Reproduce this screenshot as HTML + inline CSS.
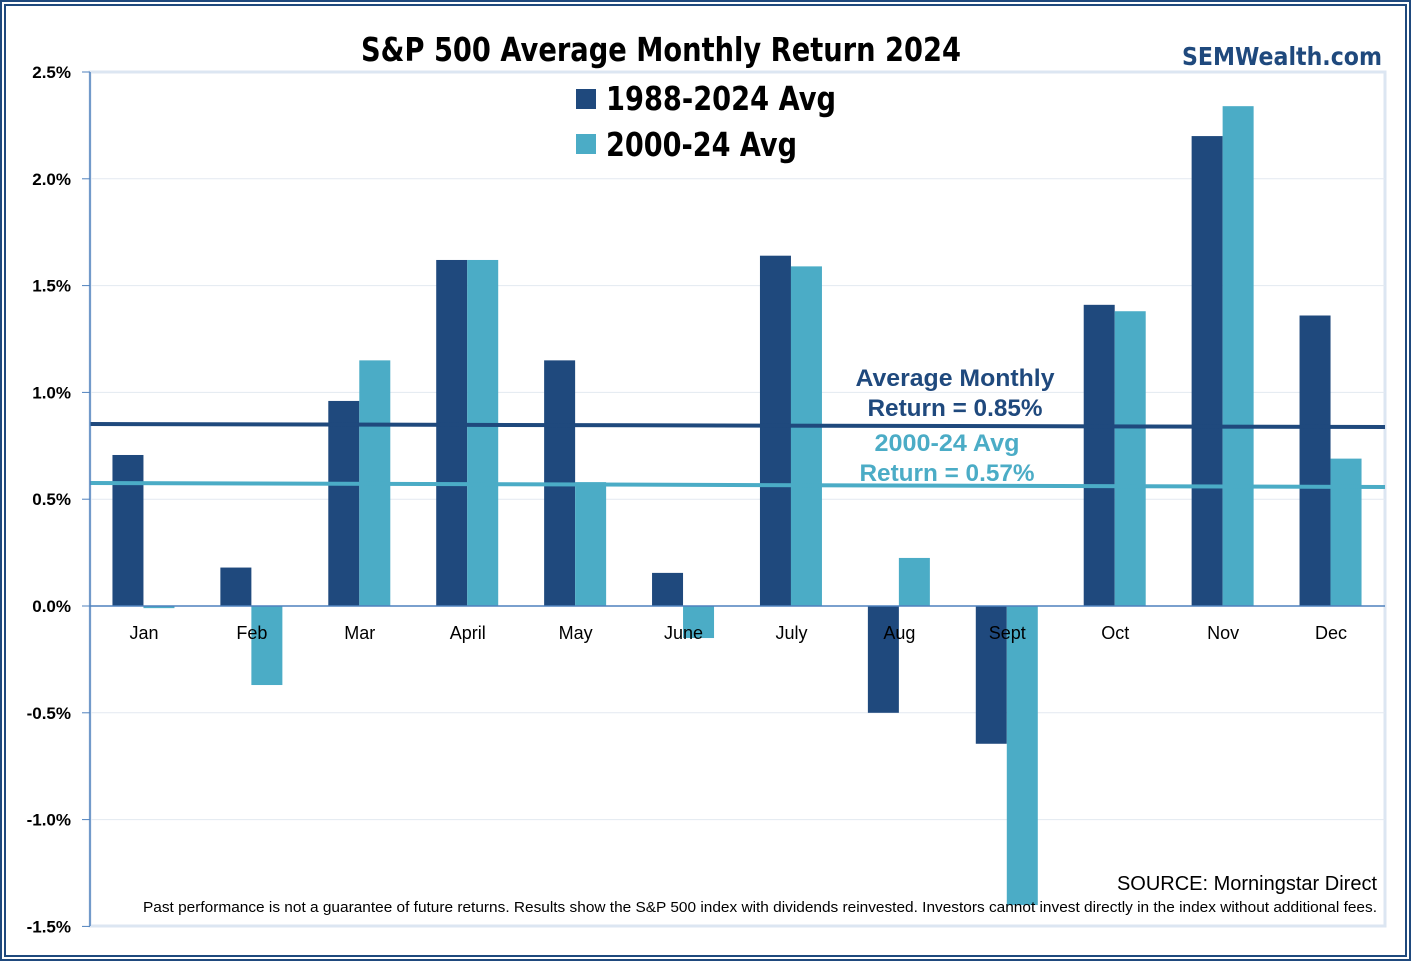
<!DOCTYPE html>
<html><head><meta charset="utf-8"><style>
html,body{margin:0;padding:0;background:#fff}
svg{display:block;font-family:"Liberation Sans",sans-serif}
</style></head><body>
<svg id="chart" width="1412" height="963" viewBox="0 0 1412 963" xmlns="http://www.w3.org/2000/svg">
<rect x="1" y="1" width="1409" height="959" fill="none" stroke="#1f497d" stroke-width="2"/>
<rect x="5" y="5" width="1401" height="951" fill="none" stroke="#1f497d" stroke-width="2"/>
<rect x="90" y="72" width="1295" height="854" fill="none" stroke="#dce6f2" stroke-width="3"/>
<g id="grid"></g>
<g id="bars"></g>
<g id="axes"></g>
<text x="661" y="61" text-anchor="middle" font-size="33" font-weight="bold" font-family="'DejaVu Sans','Liberation Sans',sans-serif" fill="#000" textLength="600" lengthAdjust="spacingAndGlyphs">S&amp;P 500 Average Monthly Return 2024</text>
<text x="1382" y="65" text-anchor="end" font-size="25" font-weight="bold" fill="#1f497d" font-family="'DejaVu Sans','Liberation Sans',sans-serif" textLength="200" lengthAdjust="spacingAndGlyphs">SEMWealth.com</text>
<rect x="576" y="89" width="20" height="20" fill="#1f497d"/>
<text x="606" y="110" font-size="33" font-weight="bold" font-family="'DejaVu Sans','Liberation Sans',sans-serif" textLength="230" lengthAdjust="spacingAndGlyphs">1988-2024 Avg</text>
<rect x="576" y="134" width="20" height="20" fill="#4bacc6"/>
<text x="606" y="156" font-size="33" font-weight="bold" font-family="'DejaVu Sans','Liberation Sans',sans-serif" textLength="191" lengthAdjust="spacingAndGlyphs">2000-24 Avg</text>
<text x="955" y="386" text-anchor="middle" font-size="24" font-weight="bold" fill="#1f497d" textLength="199" lengthAdjust="spacingAndGlyphs">Average Monthly</text>
<text x="955" y="416" text-anchor="middle" font-size="24" font-weight="bold" fill="#1f497d" textLength="175" lengthAdjust="spacingAndGlyphs">Return = 0.85%</text>
<text x="947" y="451" text-anchor="middle" font-size="24" font-weight="bold" fill="#4bacc6" textLength="145" lengthAdjust="spacingAndGlyphs">2000-24 Avg</text>
<text x="947" y="481" text-anchor="middle" font-size="24" font-weight="bold" fill="#4bacc6" textLength="175" lengthAdjust="spacingAndGlyphs">Return = 0.57%</text>
<text x="1377" y="890" text-anchor="end" font-size="20" fill="#000">SOURCE: Morningstar Direct</text>
<text x="1377" y="912" text-anchor="end" font-size="14.5" fill="#000" textLength="1234" lengthAdjust="spacingAndGlyphs">Past performance is not a guarantee of future returns. Results show the S&amp;P 500 index with dividends reinvested. Investors cannot invest directly in the index without additional fees.</text>
</svg>
<script>
const categories=["Jan","Feb","Mar","April","May","June","July","Aug","Sept","Oct","Nov","Dec"];
const series1988=[0.707,0.18,0.96,1.62,1.15,0.155,1.64,-0.50,-0.645,1.41,2.20,1.36];
const series2000=[-0.01,-0.37,1.15,1.62,0.58,-0.15,1.59,0.225,-1.40,1.38,2.34,0.69];
const avg1988=[0.852,0.838];
const avg2000=[0.576,0.557];
const yTicks=[2.5,2.0,1.5,1.0,0.5,0.0,-0.5,-1.0,-1.5];
const yTickLabels=["2.5%","2.0%","1.5%","1.0%","0.5%","0.0%","-0.5%","-1.0%","-1.5%"];

const NS="http://www.w3.org/2000/svg";
const X0=90,X1=1385;
const bw=(X1-X0)/categories.length;
function y(v){return 606-v*213.6;}
function xc(i){return X0+bw*(i+0.5);}
function mk(tag,attrs,parent){const e=document.createElementNS(NS,tag);for(const k in attrs)e.setAttribute(k,attrs[k]);parent.appendChild(e);return e;}
const grid=document.getElementById('grid'),bars=document.getElementById('bars'),axes=document.getElementById('axes');
yTicks.forEach((t,i)=>{
  if(t!==0&&t!==2.5&&t!==-1.5){const g=mk('line',{x1:X0,x2:X1,y1:y(t),y2:y(t),stroke:'#e3e9f1','stroke-width':1},grid);
  
  }
  const l=mk('text',{x:71,y:y(t)+6,'text-anchor':'end','font-size':17,'font-weight':'bold',fill:'#000'},axes);
  l.textContent=yTickLabels[i];
  
  
});
for(let v=-1.5;v<=2.5001;v+=0.1){
  const major=Math.abs(v*2-Math.round(v*2))<1e-6;
  const tk=mk('line',{x1:major?82:90,x2:90,y1:y(v),y2:y(v),stroke:'#4f81bd','stroke-width':1},axes);
  
  
}
categories.forEach((c,i)=>{
  const a=series1988[i],b=series2000[i];
  const r1=mk('rect',{x:xc(i)-31.5,width:31,y:Math.min(y(a),y(0)),height:Math.abs(y(a)-y(0)),fill:'#1f497d'},bars);
  
  
  const r2=mk('rect',{x:xc(i)-0.5,width:31,y:Math.min(y(b),y(0)),height:Math.abs(y(b)-y(0)),fill:'#4bacc6'},bars);
  
  
  const t=mk('text',{x:xc(i),y:639,'text-anchor':'middle','font-size':18,fill:'#000'},axes);
  t.textContent=c;
  
  
});
const ax=mk('line',{x1:X0,x2:X0,y1:72,y2:926,stroke:'#4f81bd','stroke-width':1.5},axes);


const zx=mk('line',{x1:X0,x2:X1,y1:y(0),y2:y(0),stroke:'#4f81bd','stroke-width':1.5},axes);


const l1=mk('line',{x1:X0,x2:X1,y1:y(avg1988[0]),y2:y(avg1988[1]),stroke:'#1f497d','stroke-width':4},bars);


const l2=mk('line',{x1:X0,x2:X1,y1:y(avg2000[0]),y2:y(avg2000[1]),stroke:'#4bacc6','stroke-width':4},bars);


</script>
</body></html>
